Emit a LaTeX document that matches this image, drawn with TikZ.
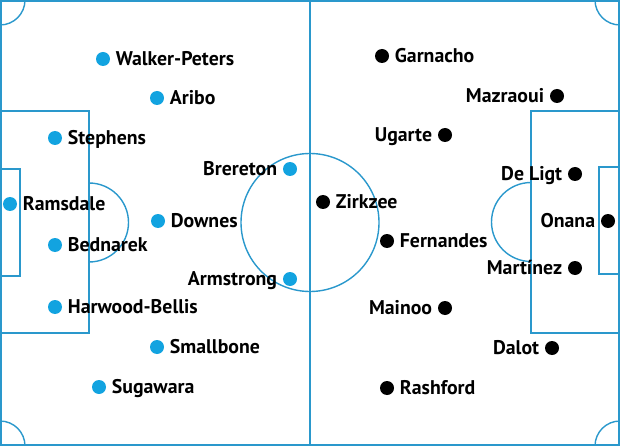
\documentclass[tikz,border=0pt]{standalone}
\usepackage{fontspec}
\setmainfont{PT Sans}
\usetikzlibrary{positioning}
\definecolor{pitchLine}{HTML}{2A98CC}
\definecolor{saintsBlue}{HTML}{12A3E0}
\definecolor{unitedBlack}{HTML}{000000}
\tikzset{
  pitch/.style={draw=pitchLine, line width=1.4pt},
  playerdot/.style={circle, inner sep=0pt, minimum size=14pt},
  playername/.style={font=\bfseries\fontsize{19.8}{19.8}\selectfont, inner sep=0pt,
                     text height=13.8pt, text depth=0pt}
}

\begin{document}
\begin{tikzpicture}[x=1pt, y=-1pt]
    \useasboundingbox (0,0) rectangle (620,446);
    % pitch
    \draw[pitch, line width=2.2pt] (1,1) rectangle (619,445);
    \draw[pitch] (310,1) -- (310,445);
    \draw[pitch] (310,222.5) circle[radius=69];
    \draw[pitch] (0,111) rectangle (89,333);
    \draw[pitch] (0,169) rectangle (20,276);
    \draw[pitch] (89,222.5) ++(-90:39.5) arc[start angle=-90, end angle=90, radius=39.5];
    \draw[pitch] (531,111) rectangle (620,333);
    \draw[pitch] (599,167) rectangle (620,274);
    \draw[pitch] (531,222) ++(90:39.5) arc[start angle=90, end angle=270, radius=39.5];
    \foreach \cx/\cy/\a in {0/0/0, 620/0/90, 620/446/180, 0/446/270}
      \draw[pitch] (\cx,\cy) ++(\a:25) arc[start angle=\a, end angle=\a+90, radius=25];
    % Southampton
    \foreach \x/\y/\nm/\sd [count=\i] in
      {103/59/Walker-Peters/right, 157/98/Aribo/right, 55/138/Stephens/right,
       290/169/Brereton/left, 10/204/Ramsdale/right, 158/221/Downes/right,
       55/245/Bednarek/right, 290/279/Armstrong/left, 55/307/Harwood-Bellis/right,
       157/347/Smallbone/right, 99/387/Sugawara/right} {
      \node[playerdot, fill=saintsBlue] (s\i) at (\x,\y) {};
      \node[playername, \sd=5.5pt of s\i] (sn\i) {\nm};
    }
    % Man Utd
    \foreach \x/\y/\nm/\sd [count=\i] in
      {382/56/Garnacho/right, 557/96/Mazraoui/left, 445/135/Ugarte/left,
       575/174/De Ligt/left, 323/202/Zirkzee/right, 608/221/Onana/left,
       387/241/Fernandes/right, 575/268/Martínez/left, 445/308/Mainoo/left,
       552/348/Dalot/left, 387/388/Rashford/right} {
      \node[playerdot, fill=unitedBlack] (m\i) at (\x,\y) {};
      \node[playername, \sd=5.5pt of m\i] (mn\i) {\nm};
    }
\end{tikzpicture}
\end{document}
